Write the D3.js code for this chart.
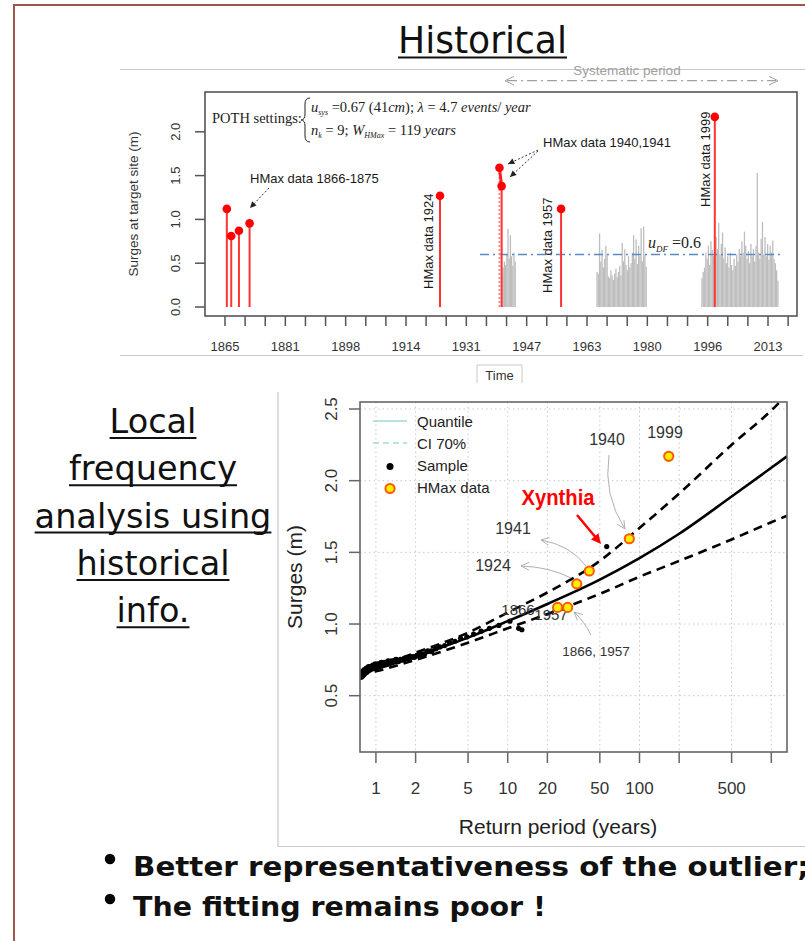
<!DOCTYPE html>
<html>
<head>
<meta charset="utf-8">
<script src="https://cdn.jsdelivr.net/npm/d3@7"></script>
<style>
body { margin: 0; background: #fff; }
svg { display: block; }
</style>
</head>
<body>
<div id="visualization"></div>
<script>
const width = 805;
const height = 941;

// ---------- top chart: historical / systematic surges ----------
const timeTickLabels = ["1865", "1881", "1898", "1914", "1931", "1947", "1963", "1980", "1996", "2013"];
const surgeTicks = [0, 0.5, 1, 1.5, 2];
const hmaxYears = [1865.5, 1866.7, 1868.8, 1871.7, 1923.6, 1939.8, 1940.4, 1956.6, 1998.5];
const hmaxSurges = [1.12, 0.81, 0.87, 0.955, 1.27, 1.59, 1.38, 1.12, 2.17];
const sysSpans = [[1940.5, 1944.1], [1966.4, 1979.8], [1995.0, 2015.7]];
const sysSurges1 = [0.33, 0.45, 0.52, 0.48, 0.60, 0.89, 0.55, 0.82, 0.58, 0.47, 0.62, 0.52];
const sysSurges2 = [0.40, 0.38, 0.84, 0.52, 0.65, 0.45, 0.55, 0.70, 0.60, 0.35, 0.33, 0.42, 0.36, 0.31,
    0.38, 0.44, 0.34, 0.40, 0.47, 0.36, 0.73, 0.52, 0.66, 0.48, 0.42, 0.58, 0.45, 0.50, 0.62, 0.82,
    0.55, 0.77, 0.49, 0.70, 0.58, 0.90, 0.52, 0.92, 0.60, 0.46];
const sysSurges3 = [0.33, 0.40, 0.45, 0.62, 0.55, 0.70, 0.48, 0.75, 0.65, 0.58, 0.52, 0.80, 0.66, 0.96,
    0.60, 0.72, 0.85, 0.55, 0.68, 0.50, 0.58, 0.45, 0.62, 0.48, 0.42, 0.55, 0.47, 0.60, 0.52, 0.66,
    0.58, 0.75, 0.62, 0.86, 0.70, 0.55, 0.64, 0.50, 0.72, 0.58, 0.66, 0.52, 0.70, 1.53, 0.62, 0.55,
    0.78, 0.97, 0.60, 0.80, 0.58, 0.72, 0.54, 0.70, 0.62, 0.76, 0.55, 0.50, 0.42, 0.30];
const thresholdDF = 0.6;

// ---------- bottom chart: return periods ----------
const returnTickValues = [1, 2, 5, 10, 20, 50, 100, 200, 500, 1000];
const returnTickLabels = ["1", "2", "5", "10", "20", "50", "100", "", "500", ""];
const surgeTicksLow = [0.5, 1.0, 1.5, 2.0, 2.5];
const curvePeriods = [0.757, 1, 2, 5, 10, 20, 50, 100, 200, 500, 1000, 1316];
const quantileSurges = [0.655, 0.685, 0.775, 0.905, 1.02, 1.14, 1.31, 1.46, 1.63, 1.89, 2.09, 2.17];
const ciUpperSurges = [0.665, 0.70, 0.80, 0.94, 1.08, 1.22, 1.44, 1.67, 1.91, 2.25, 2.49, 2.60];
const ciLowerSurges = [0.645, 0.67, 0.75, 0.87, 0.97, 1.07, 1.21, 1.33, 1.44, 1.59, 1.71, 1.755];
const samplePeriods = [0.77, 0.78, 0.79, 0.80, 0.81, 0.82, 0.83, 0.85, 0.86, 0.88, 0.89, 0.91, 0.93, 0.95,
    0.97, 0.99, 1.01, 1.04, 1.07, 1.10, 1.13, 1.16, 1.20, 1.24, 1.28, 1.32, 1.37, 1.42, 1.48, 1.54,
    1.61, 1.68, 1.76, 1.85, 1.95, 2.06, 2.18, 2.32, 2.47, 2.64, 2.84, 3.06, 3.32, 3.62, 3.97, 4.39,
    4.89, 5.51, 6.28, 7.27, 8.57, 10.4, 12.1, 12.8, 56.4];
const sampleSurges = [0.63, 0.66, 0.64, 0.67, 0.65, 0.68, 0.66, 0.69, 0.67, 0.70, 0.68, 0.70, 0.69, 0.71,
    0.70, 0.72, 0.70, 0.72, 0.71, 0.73, 0.72, 0.73, 0.72, 0.74, 0.73, 0.74, 0.74, 0.75, 0.74, 0.75,
    0.75, 0.76, 0.76, 0.77, 0.77, 0.78, 0.79, 0.79, 0.81, 0.81, 0.83, 0.84, 0.85, 0.87, 0.88, 0.90,
    0.91, 0.93, 0.95, 0.97, 0.99, 1.02, 0.97, 0.96, 1.54];
const hmaxLabels = ["1866", "1957", "1924", "1941", "1940", "1999"];
const hmaxPeriods = [23.9, 28.5, 33.4, 41.6, 83.7, 166.6];
const hmaxSurgesLow = [1.116, 1.116, 1.28, 1.37, 1.595, 2.17];

const sideLines = ["Local", "frequency", "analysis using", "historical", "info."];
const bulletLines = ["Better representativeness of the outlier;", "The fitting remains poor !"];

const SANS = "'Liberation Sans', Arial, sans-serif";
const SERIF = "'Liberation Serif', 'Times New Roman', serif";

const svg = d3.select('#visualization')
    .append('svg')
    .attr('width', width)
    .attr('height', height);

svg.append('rect').attr('width', width).attr('height', height).attr('fill', '#fff');

// slide frame
svg.append('path')
    .attr('d', `M${width},5 L14,5 L14,${height}`)
    .attr('fill', 'none')
    .attr('stroke', '#a0564d')
    .attr('stroke-width', 2);

// title
svg.append('text')
    .attr('x', 482.5).attr('y', 53)
    .attr('text-anchor', 'middle')
    .attr('font-family', "'Liberation Sans Narrow', 'DejaVu Sans Condensed', 'Liberation Sans', sans-serif")
    .attr('font-size', 38)
    .attr('textLength', 169)
    .attr('lengthAdjust', 'spacingAndGlyphs')
    .attr('fill', '#111')
    .text('Historical');
svg.append('line').attr('x1', 398).attr('x2', 567).attr('y1', 57.5).attr('y2', 57.5)
    .attr('stroke', '#111').attr('stroke-width', 2);

function arrowHead(g, tip, from, size, color, filled) {
    const a = Math.atan2(tip[1] - from[1], tip[0] - from[0]);
    const p1 = [tip[0] - size * Math.cos(a - 0.45), tip[1] - size * Math.sin(a - 0.45)];
    const p2 = [tip[0] - size * Math.cos(a + 0.45), tip[1] - size * Math.sin(a + 0.45)];
    if (filled) {
        g.append('path').attr('d', `M${p1}L${tip}L${p2}Z`).attr('fill', color).attr('stroke', 'none');
    } else {
        g.append('path').attr('d', `M${p1}L${tip}L${p2}`).attr('fill', 'none')
            .attr('stroke', color).attr('stroke-width', 1);
    }
}

drawTopChart();
drawBottomChart();
drawSideText();
drawBullets();

function drawTopChart() {
    const g = svg.append('g');
    const x = d3.scaleLinear().domain([1865, 2013]).range([225, 768]);
    const y = d3.scaleLinear().domain([0, 1]).range([307, 219.4]);

    // image edges
    g.append('line').attr('x1', 120).attr('x2', width).attr('y1', 69.5).attr('y2', 69.5)
        .attr('stroke', '#c8c8c8').attr('stroke-width', 1.2);
    g.append('line').attr('x1', 120).attr('x2', 803).attr('y1', 355.5).attr('y2', 355.5)
        .attr('stroke', '#c8c8c8').attr('stroke-width', 1.2);

    // systematic period marker
    g.append('text').attr('x', 627).attr('y', 75).attr('text-anchor', 'middle')
        .attr('font-family', SANS).attr('font-size', 13.5).attr('fill', '#a0a0a0')
        .text('Systematic period');
    g.append('line').attr('x1', 507).attr('x2', 776).attr('y1', 80.7).attr('y2', 80.7)
        .attr('stroke', '#a0a0a0').attr('stroke-width', 1.2).attr('stroke-dasharray', '10,4,2,4');
    arrowHead(g, [505, 80.7], [520, 80.7], 10, '#a0a0a0', false);
    arrowHead(g, [778, 80.7], [760, 80.7], 10, '#a0a0a0', false);

    // plot frame
    g.append('rect').attr('x', 205).attr('y', 92).attr('width', 592).attr('height', 224)
        .attr('fill', 'none').attr('stroke', '#555').attr('stroke-width', 1.6);

    // x axis: 3 ticks between each label
    const step = (2013 - 1865) / 27;
    const tickYears = d3.range(0, 29).map(i => 1865 + i * step);
    tickYears.forEach((yr, i) => {
        g.append('line').attr('x1', x(yr)).attr('x2', x(yr)).attr('y1', 316).attr('y2', 326)
            .attr('stroke', '#555').attr('stroke-width', 1.5);
        if (i % 3 === 0 && timeTickLabels[i / 3]) {
            g.append('text').attr('x', x(yr)).attr('y', 351).attr('text-anchor', 'middle')
                .attr('font-family', SANS).attr('font-size', 13).attr('fill', '#333')
                .text(timeTickLabels[i / 3]);
        }
    });

    // y axis
    surgeTicks.forEach(v => {
        g.append('line').attr('x1', 195).attr('x2', 205).attr('y1', y(v)).attr('y2', y(v))
            .attr('stroke', '#555').attr('stroke-width', 1.5);
        g.append('text')
            .attr('transform', `translate(180,${y(v)}) rotate(-90)`)
            .attr('text-anchor', 'middle')
            .attr('font-family', SANS).attr('font-size', 13).attr('fill', '#333')
            .text(v.toFixed(1));
    });
    g.append('text')
        .attr('transform', 'translate(138,204) rotate(-90)')
        .attr('text-anchor', 'middle')
        .attr('font-family', SANS).attr('font-size', 13.5).attr('fill', '#333')
        .text('Surges at target site (m)');

    // systematic data bars
    [sysSurges1, sysSurges2, sysSurges3].forEach((vals, k) => {
        const [a, b] = sysSpans[k];
        const pos = d3.scaleLinear().domain([0, vals.length - 1]).range([a, b]);
        g.append('g').selectAll('line')
            .data(vals)
            .enter().append('line')
            .attr('x1', (d, i) => x(pos(i)))
            .attr('x2', (d, i) => x(pos(i)))
            .attr('y1', y(0))
            .attr('y2', d => y(d))
            .attr('stroke', '#bdbdbd')
            .attr('stroke-width', 1.3);
    });

    // threshold
    g.append('line').attr('x1', 480).attr('x2', 782).attr('y1', y(thresholdDF)).attr('y2', y(thresholdDF))
        .attr('stroke', '#5a8ac6').attr('stroke-width', 1.6).attr('stroke-dasharray', '9,4,2,4');
    const uLab = g.append('text').attr('x', 648).attr('y', 248)
        .attr('font-family', SERIF).attr('font-size', 16).attr('fill', '#222');
    uLab.append('tspan').attr('font-style', 'italic').text('u');
    uLab.append('tspan').attr('font-style', 'italic').attr('font-size', 9).attr('dy', 4).text('DF');
    uLab.append('tspan').attr('dy', -4).text(' =0.6');

    // HMax stems
    hmaxYears.forEach((yr, i) => {
        g.append('line').attr('x1', x(yr)).attr('x2', x(yr)).attr('y1', y(0)).attr('y2', y(hmaxSurges[i]))
            .attr('stroke', i === 5 ? '#ff8a8a' : '#ff3333')
            .attr('stroke-width', 2)
            .attr('stroke-dasharray', i === 5 ? '2,2' : null);
    });
    g.append('line').attr('x1', x(hmaxYears[5])).attr('x2', x(hmaxYears[6]))
        .attr('y1', y(hmaxSurges[5])).attr('y2', y(hmaxSurges[6]))
        .attr('stroke', '#ff2020').attr('stroke-width', 3);
    g.selectAll('circle.hm')
        .data(hmaxYears)
        .enter().append('circle')
        .attr('class', 'hm')
        .attr('cx', d => x(d))
        .attr('cy', (d, i) => y(hmaxSurges[i]))
        .attr('r', 4.3)
        .attr('fill', '#ff0000');

    // annotations
    function annText(t, xx, yy, rot) {
        const el = g.append('text')
            .attr('font-family', SANS).attr('font-size', 13).attr('fill', '#1a1a1a');
        if (rot) el.attr('transform', `translate(${xx},${yy}) rotate(-90)`);
        else el.attr('x', xx).attr('y', yy);
        el.text(t);
    }
    annText('HMax data 1866-1875', 250, 183);
    annText('HMax data 1940,1941', 543, 147);
    annText('HMax data 1924', 433, 289, true);
    annText('HMax data 1957', 552, 293, true);
    annText('HMax data 1999', 710, 207, true);

    const dashArrow = (from, to) => {
        g.append('line').attr('x1', from[0]).attr('y1', from[1]).attr('x2', to[0]).attr('y2', to[1])
            .attr('stroke', '#333').attr('stroke-width', 1).attr('stroke-dasharray', '2,2');
        arrowHead(g, to, from, 7, '#222', true);
    };
    dashArrow([269, 188], [250, 208]);
    dashArrow([538, 150], [508, 164]);
    dashArrow([538, 151], [510, 177]);

    // POTH settings
    g.append('text').attr('x', 212).attr('y', 123)
        .attr('font-family', SERIF).attr('font-size', 14.5).attr('fill', '#222')
        .text('POTH settings:');
    g.append('path')
        .attr('d', 'M310,98 Q305,98 305,104 L305,114 Q305,120 301,120 Q305,120 305,126 L305,136 Q305,142 310,142')
        .attr('fill', 'none').attr('stroke', '#222').attr('stroke-width', 1);
    const l1 = g.append('text').attr('x', 311).attr('y', 112)
        .attr('font-family', SERIF).attr('font-size', 14.5).attr('fill', '#222');
    l1.append('tspan').attr('font-style', 'italic').text('u');
    l1.append('tspan').attr('font-style', 'italic').attr('font-size', 8).attr('dy', 3).text('sys');
    l1.append('tspan').attr('dy', -3).text(' =0.67 (41');
    l1.append('tspan').attr('font-style', 'italic').text('cm');
    l1.append('tspan').text('); ');
    l1.append('tspan').attr('font-style', 'italic').text('λ');
    l1.append('tspan').text(' = 4.7 ');
    l1.append('tspan').attr('font-style', 'italic').text('events');
    l1.append('tspan').text('/ ');
    l1.append('tspan').attr('font-style', 'italic').text('year');
    const l2 = g.append('text').attr('x', 311).attr('y', 135)
        .attr('font-family', SERIF).attr('font-size', 14.5).attr('fill', '#222');
    l2.append('tspan').attr('font-style', 'italic').text('n');
    l2.append('tspan').attr('font-style', 'italic').attr('font-size', 8).attr('dy', 3).text('k');
    l2.append('tspan').attr('dy', -3).text(' = 9; ');
    l2.append('tspan').attr('font-style', 'italic').text('W');
    l2.append('tspan').attr('font-style', 'italic').attr('font-size', 8).attr('dy', 3).text('HMax');
    l2.append('tspan').attr('dy', -3).text(' = 119 ');
    l2.append('tspan').attr('font-style', 'italic').text(' years');

    // "Time" tab
    g.append('path').attr('d', 'M477,383 L477,365 L522,365 L522,383')
        .attr('fill', 'none').attr('stroke', '#c8c8c8');
    g.append('text').attr('x', 499.5).attr('y', 380).attr('text-anchor', 'middle')
        .attr('font-family', SANS).attr('font-size', 13).attr('fill', '#333').text('Time');
}

function drawBottomChart() {
    const g = svg.append('g');
    const left = 360, right = 787, top = 402, bottom = 752;
    const x = d3.scaleLog().domain([0.757, 1316]).range([left, right]);
    const y = d3.scaleLinear().domain([0.5, 2.5]).range([695.7, 409]);

    // image edges
    g.append('path').attr('d', `M278,392 L278,846.5 L${width},846.5`)
        .attr('fill', 'none').attr('stroke', '#c8c8c8').attr('stroke-width', 1.2);

    svg.append('clipPath').attr('id', 'plotClip')
        .append('rect').attr('x', left).attr('y', top).attr('width', right - left).attr('height', bottom - top);

    // grid
    returnTickValues.forEach(t => {
        g.append('line').attr('x1', x(t)).attr('x2', x(t)).attr('y1', top).attr('y2', bottom)
            .attr('stroke', '#c9c9c9').attr('stroke-width', 1).attr('stroke-dasharray', '1.5,3');
    });
    surgeTicksLow.forEach(v => {
        g.append('line').attr('x1', left).attr('x2', right).attr('y1', y(v)).attr('y2', y(v))
            .attr('stroke', '#c9c9c9').attr('stroke-width', 1).attr('stroke-dasharray', '1.5,3');
    });

    // axes
    returnTickValues.forEach((t, i) => {
        g.append('line').attr('x1', x(t)).attr('x2', x(t)).attr('y1', bottom).attr('y2', bottom + 11)
            .attr('stroke', '#666').attr('stroke-width', 1.5);
        if (returnTickLabels[i]) {
            g.append('text').attr('x', x(t)).attr('y', 794).attr('text-anchor', 'middle')
                .attr('font-family', SANS).attr('font-size', 17).attr('fill', '#333')
                .text(returnTickLabels[i]);
        }
    });
    surgeTicksLow.forEach(v => {
        g.append('line').attr('x1', left - 11).attr('x2', left).attr('y1', y(v)).attr('y2', y(v))
            .attr('stroke', '#666').attr('stroke-width', 1.5);
        g.append('text')
            .attr('transform', `translate(337,${y(v)}) rotate(-90)`)
            .attr('text-anchor', 'middle')
            .attr('font-family', SANS).attr('font-size', 17).attr('fill', '#333')
            .text(v.toFixed(1));
    });
    g.append('text').attr('x', 558).attr('y', 834).attr('text-anchor', 'middle')
        .attr('font-family', SANS).attr('font-size', 21).attr('fill', '#222')
        .text('Return period (years)');
    g.append('text')
        .attr('transform', `translate(302,${(top + bottom) / 2}) rotate(-90)`)
        .attr('text-anchor', 'middle')
        .attr('font-family', SANS).attr('font-size', 21).attr('fill', '#222')
        .text('Surges (m)');

    // curves
    const plot = g.append('g').attr('clip-path', 'url(#plotClip)');
    const line = vals => d3.line()
        .x((d, i) => x(curvePeriods[i]))
        .y(d => y(d))
        .curve(d3.curveMonotoneX)(vals);
    plot.append('path').attr('d', line(ciUpperSurges)).attr('fill', 'none')
        .attr('stroke', '#000').attr('stroke-width', 2.6).attr('stroke-dasharray', '9,6');
    plot.append('path').attr('d', line(ciLowerSurges)).attr('fill', 'none')
        .attr('stroke', '#000').attr('stroke-width', 2.6).attr('stroke-dasharray', '9,6');
    plot.append('path').attr('d', line(quantileSurges)).attr('fill', 'none')
        .attr('stroke', '#000').attr('stroke-width', 2.6);

    // sample points
    plot.selectAll('circle.sample')
        .data(samplePeriods)
        .enter().append('circle')
        .attr('class', 'sample')
        .attr('cx', d => x(d))
        .attr('cy', (d, i) => y(sampleSurges[i]))
        .attr('r', d => d < 3 ? 3 : 2.6)
        .attr('fill', '#000');

    // point labels, drawn under the HMax symbols
    const lab = (t, xx, yy, size) => g.append('text').attr('x', xx).attr('y', yy)
        .attr('text-anchor', 'middle')
        .attr('font-family', SANS).attr('font-size', size || 16).attr('fill', '#333').text(t);
    lab(hmaxLabels[0], 518, 615, 15);
    lab(hmaxLabels[1], 551, 620, 15);
    lab(hmaxLabels[4], 607, 445);
    lab(hmaxLabels[5], 665, 438);
    lab(hmaxLabels[3], 513, 534);
    lab(hmaxLabels[2], 493, 571);
    lab(`${hmaxLabels[0]}, ${hmaxLabels[1]}`, 596, 656, 13.5);

    // HMax symbols
    g.selectAll('circle.hmax')
        .data(hmaxPeriods)
        .enter().append('circle')
        .attr('class', 'hmax')
        .attr('cx', d => x(d))
        .attr('cy', (d, i) => y(hmaxSurgesLow[i]))
        .attr('r', 4.6)
        .attr('fill', '#ffee00')
        .attr('stroke', '#ff5a00')
        .attr('stroke-width', 2);

    // gray pointer arrows
    const curved = pts => {
        g.append('path').attr('d', `M${pts[0]} Q${pts[1]} ${pts[2]}`)
            .attr('fill', 'none').attr('stroke', '#b0b0b0').attr('stroke-width', 1);
        arrowHead(g, pts[2], pts[1], 9, '#b0b0b0', false);
    };
    curved([[609, 455], [603, 495], [625, 529]]);
    curved([[586, 566], [570, 545], [541, 540]]);
    curved([[571, 578], [550, 567], [521, 566]]);
    curved([[591, 635], [584, 621], [574, 612]]);

    // Xynthia
    g.append('text').attr('x', 558).attr('y', 505).attr('text-anchor', 'middle')
        .attr('font-family', "'Liberation Sans Narrow', 'Liberation Sans', sans-serif")
        .attr('font-weight', 'bold').attr('font-size', 22)
        .attr('textLength', 73).attr('lengthAdjust', 'spacingAndGlyphs')
        .attr('fill', '#ff0000').text('Xynthia');
    g.append('line').attr('x1', 577).attr('y1', 515).attr('x2', 597).attr('y2', 539)
        .attr('stroke', '#ff0000').attr('stroke-width', 2.5);
    arrowHead(g, [601, 544], [577, 515], 11, '#ff0000', true);

    // legend
    g.append('line').attr('x1', 373).attr('x2', 407).attr('y1', 421).attr('y2', 421)
        .attr('stroke', '#a3d9d9').attr('stroke-width', 1.6);
    g.append('line').attr('x1', 373).attr('x2', 407).attr('y1', 443).attr('y2', 443)
        .attr('stroke', '#a3d9d9').attr('stroke-width', 1.6).attr('stroke-dasharray', '6,4');
    g.append('circle').attr('cx', 390).attr('cy', 466.5).attr('r', 3.5).attr('fill', '#000');
    g.append('circle').attr('cx', 390).attr('cy', 488.5).attr('r', 4.6)
        .attr('fill', '#ffee00').attr('stroke', '#ff5a00').attr('stroke-width', 2);
    ['Quantile', 'CI 70%', 'Sample', 'HMax data'].forEach((t, i) => {
        g.append('text').attr('x', 417).attr('y', 426.5 + i * 22.3)
            .attr('font-family', SANS).attr('font-size', 15).attr('fill', '#222').text(t);
    });

    // plot frame
    g.append('rect').attr('x', left).attr('y', top).attr('width', right - left).attr('height', bottom - top)
        .attr('fill', 'none').attr('stroke', '#666').attr('stroke-width', 1.6);
}

function drawSideText() {
    const g = svg.append('g');
    sideLines.forEach((t, i) => {
        const yy = 433 + i * 47.3;
        const txt = g.append('text').attr('x', 153).attr('y', yy).attr('text-anchor', 'middle')
            .attr('font-family', "'DejaVu Sans', Verdana, sans-serif")
            .attr('font-size', 33.5)
            .attr('fill', '#111').text(t);
        const w = txt.node().getComputedTextLength();
        g.append('line')
            .attr('x1', 153 - w / 2).attr('x2', 153 + w / 2)
            .attr('y1', yy + 5).attr('y2', yy + 5)
            .attr('stroke', '#111').attr('stroke-width', 2);
    });
}

function drawBullets() {
    const g = svg.append('g');
    const widths = [676, 413];
    bulletLines.forEach((t, i) => {
        const yy = 876 + i * 40;
        g.append('circle').attr('cx', 110).attr('cy', yy - 17).attr('r', 5.2).attr('fill', '#000');
        g.append('text').attr('x', 133).attr('y', yy)
            .attr('font-family', "'DejaVu Sans', Verdana, sans-serif")
            .attr('font-weight', 'bold').attr('font-size', 27)
            .attr('textLength', widths[i]).attr('lengthAdjust', 'spacingAndGlyphs')
            .attr('fill', '#111').text(t);
    });
}
</script>
</body>
</html>
